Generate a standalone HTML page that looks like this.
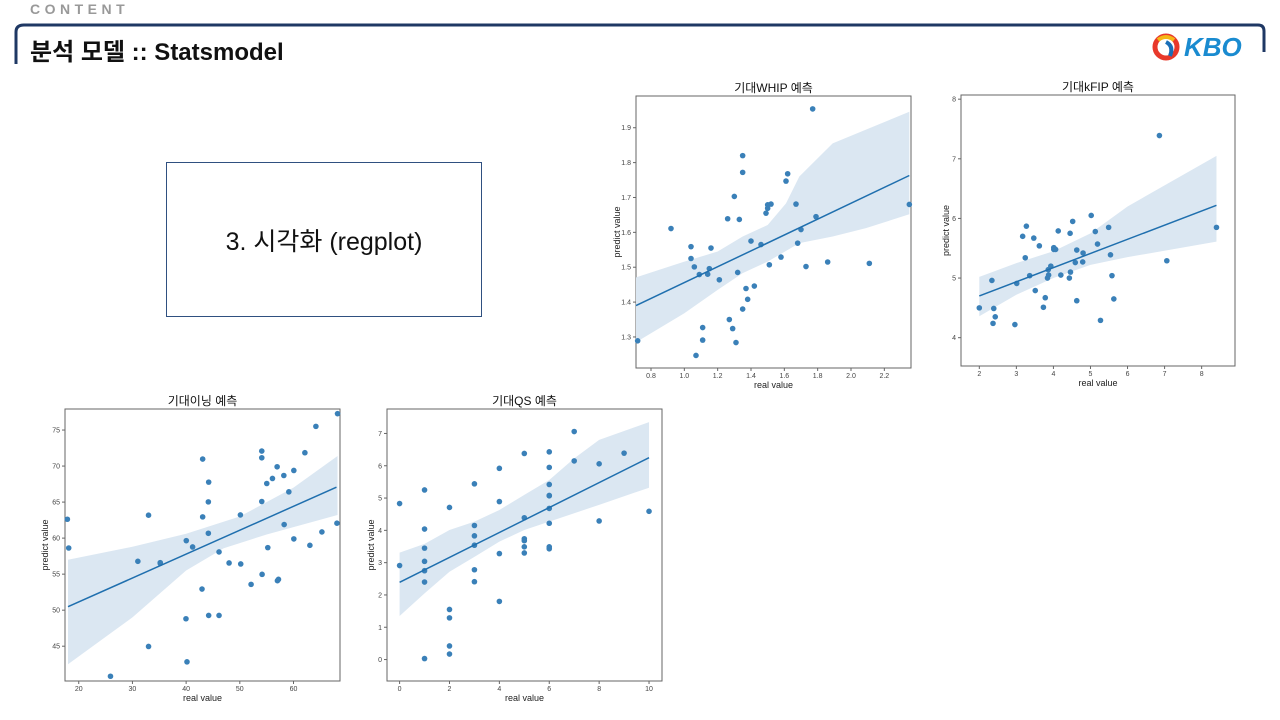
<!DOCTYPE html>
<html><head><meta charset="utf-8">
<style>
body{margin:0;width:1280px;height:720px;background:#fff;position:relative;overflow:hidden;font-family:"Liberation Sans","Noto Sans CJK KR",sans-serif;}
.abs{position:absolute;}
</style></head>
<body>
<div class="abs" style="left:30px;top:1px;font-size:14px;letter-spacing:4.5px;color:#999;font-weight:bold;">CONTENT</div>
<svg class="abs" style="left:0;top:0" width="1280" height="80">
<path d="M16,64 L16,32 Q16,25 24,25 L1258,25 Q1264,25 1264,31 L1264,52" fill="none" stroke="#1f3864" stroke-width="3"/>
</svg>
<div class="abs" style="left:30px;top:32px;font-size:24px;font-weight:bold;color:#111;font-family:'Liberation Sans','Noto Sans CJK KR',sans-serif;">분석 모델 :: Statsmodel</div>
<div class="abs" style="left:1152px;top:32px;width:100px;height:30px;">
<svg width="30" height="30" style="position:absolute;left:0;top:0"><circle cx="14" cy="15" r="11" fill="none" stroke="#e8392b" stroke-width="5"/><path d="M6,8 Q14,2 22,8" stroke="#f5b716" stroke-width="4" fill="none"/><path d="M14,10 Q22,14 18,24" stroke="#1a6fb8" stroke-width="4" fill="none"/></svg>
<span style="position:absolute;left:32px;top:0px;font-size:26px;font-weight:bold;font-style:italic;color:#1a8bd0;">KBO</span>
</div>
<div class="abs" style="left:166px;top:162px;width:314px;height:153px;border:1px solid #2f5080;display:flex;align-items:center;justify-content:center;font-size:25px;color:#111;font-family:'Liberation Sans','Noto Sans CJK KR',sans-serif;">3. 시각화 (regplot)</div>
<svg id="charts" class="abs" style="left:0;top:0" width="1280" height="720"></svg>
<script>
// ---- Chart 1: 기대WHIP
const whipX=[1.77,1.35,1.35,1.62,1.61,1.30,1.67,1.50,1.52,1.50,1.49,1.26,1.33,1.79,0.92,1.70,1.40,1.46,1.68,1.04,1.16,1.04,1.58,1.06,1.15,1.51,1.73,1.86,2.11,1.09,1.14,1.32,1.21,1.37,1.42,1.38,1.35,1.27,1.11,1.29,1.11,1.31,0.72,1.07,2.35];
const whipY=[1.954,1.82,1.772,1.768,1.747,1.703,1.681,1.679,1.681,1.669,1.655,1.639,1.637,1.645,1.611,1.608,1.575,1.565,1.569,1.559,1.555,1.525,1.529,1.501,1.496,1.507,1.502,1.515,1.511,1.479,1.48,1.485,1.464,1.439,1.446,1.408,1.38,1.35,1.327,1.324,1.291,1.284,1.289,1.247,1.68];
const whipLine=[[0.71,1.39],[2.35,1.763]];
const whipHiX=[0.71,1.0,1.2,1.35,1.5,1.61,1.69,1.89,2.35];
const whipHi=[1.471,1.516,1.545,1.588,1.621,1.683,1.760,1.855,1.946];
const whipLoX=[0.71,1.0,1.2,1.35,1.5,1.69,1.89,2.09,2.35];
const whipLo=[1.285,1.368,1.435,1.483,1.516,1.569,1.588,1.612,1.652];
const whipXTicks=[0.8,1.0,1.2,1.4,1.6,1.8,2.0,2.2];
const whipYTicks=[1.3,1.4,1.5,1.6,1.7,1.8,1.9];
const whipXLabels=["0.8","1.0","1.2","1.4","1.6","1.8","2.0","2.2"];
const whipYLabels=["1.3","1.4","1.5","1.6","1.7","1.8","1.9"];
// ---- Chart 2: 기대kFIP
const fipX=[6.86,5.02,4.52,3.27,5.49,8.40,4.13,5.13,4.45,3.17,3.47,5.19,3.62,4.01,4.06,4.01,4.63,4.80,5.54,3.24,4.59,4.79,7.06,3.93,3.86,3.36,3.87,4.20,4.46,5.58,3.84,4.43,2.34,3.01,3.51,3.78,4.63,5.63,3.73,2.0,2.39,2.43,5.27,2.37,2.96];
const fipY=[7.39,6.05,5.95,5.87,5.85,5.85,5.79,5.78,5.75,5.70,5.67,5.57,5.54,5.51,5.48,5.48,5.47,5.42,5.39,5.34,5.26,5.27,5.29,5.20,5.14,5.04,5.05,5.05,5.10,5.04,5.00,5.00,4.96,4.91,4.79,4.67,4.62,4.65,4.51,4.50,4.49,4.35,4.29,4.24,4.22];
const fipLine=[[2.0,4.70],[8.4,6.22]];
const fipHiX=[2,3,4,5,6,8.4];
const fipHi=[5.02,5.25,5.45,5.75,6.2,7.05];
const fipLoX=[2,3,4,5,6,8.4];
const fipLo=[4.36,4.72,5.0,5.22,5.35,5.61];
const fipXTicks=[2,3,4,5,6,7,8];
const fipYTicks=[4,5,6,7,8];
const fipXLabels=["2","3","4","5","6","7","8"];
const fipYLabels=["4","5","6","7","8"];
// ---- Chart 3: 기대이닝
const innX=[68.2,64.17,54.09,54.09,43.08,62.12,56.95,60.06,56.08,58.2,55.02,44.2,59.13,54.09,44.14,33.0,50.11,43.08,17.88,68.09,58.26,44.14,65.29,40.03,60.06,63.05,41.21,55.21,18.13,46.13,31.01,35.18,35.18,48.0,50.17,54.15,57.2,57.01,52.1,42.96,39.97,44.2,46.13,33.0,40.16,25.91];
const innY=[77.27,75.51,72.08,71.15,70.97,71.85,69.9,69.39,68.28,68.69,67.58,67.77,66.42,65.08,65.03,63.18,63.22,62.95,62.62,62.07,61.88,60.67,60.86,59.65,59.89,59.0,58.77,58.68,58.63,58.08,56.78,56.6,56.5,56.55,56.41,54.97,54.28,54.09,53.58,52.93,48.81,49.27,49.27,44.96,42.83,40.83];
const innLine=[[18,50.48],[68,67.07]];
const innHiX=[18,30,40,50,60,68.2];
const innHi=[57.0,58.8,60.6,63.0,67.0,71.4];
const innLoX=[18,30,40,47,55,68.2];
const innLo=[42.5,49.0,55.5,58.6,60.5,63.2];
const innXTicks=[20,30,40,50,60];
const innYTicks=[45,50,55,60,65,70,75];
const innXLabels=["20","30","40","50","60"];
const innYLabels=["45","50","55","60","65","70","75"];
// ---- Chart 4: 기대QS
const qsX=[7,6,5,9,7,8,6,4,3,6,1,6,6,0,4,2,6,10,5,8,6,3,1,3,5,5,3,1,5,6,6,5,4,0,1,1,3,1,3,4,2,2,2,2,1];
const qsY=[7.06,6.43,6.38,6.39,6.15,6.06,5.95,5.92,5.44,5.42,5.25,5.07,5.08,4.83,4.89,4.71,4.68,4.59,4.39,4.29,4.22,4.15,4.04,3.83,3.74,3.68,3.54,3.45,3.49,3.49,3.43,3.30,3.28,2.91,3.04,2.75,2.78,2.40,2.41,1.80,1.55,1.29,0.42,0.17,0.03];
const qsLine=[[0,2.39],[10,6.25]];
const qsHiX=[0,1,2,3,4,5,6,7,8,10];
const qsHi=[3.31,3.58,4.01,4.27,4.63,5.10,5.56,6.23,6.80,7.35];
const qsLoX=[0,1,2,3,4,5,6,7,8,10];
const qsLo=[1.35,2.05,2.72,3.18,3.65,4.01,4.27,4.53,4.79,5.32];
const qsXTicks=[0,2,4,6,8,10];
const qsYTicks=[0,1,2,3,4,5,6,7];
const qsXLabels=["0","2","4","6","8","10"];
const qsYLabels=["0","1","2","3","4","5","6","7"];

const NS="http://www.w3.org/2000/svg";
const root=document.getElementById('charts');
function mk(tag,attrs,parent){const e=document.createElementNS(NS,tag);for(const k in attrs)e.setAttribute(k,attrs[k]);(parent||root).appendChild(e);return e;}
function chart(c){
  const g=mk('g',{});
  
  
  const sx=v=>c.L+(v-c.x0)/(c.x1-c.x0)*(c.R-c.L);
  const sy=v=>c.B-(v-c.y0)/(c.y1-c.y0)*(c.B-c.T);
  const fr=mk('rect',{x:c.L,y:c.T,width:c.R-c.L,height:c.B-c.T,fill:'#fff',stroke:'#666','stroke-width':1},g);
  
  
  let d='';
  c.hiX.forEach((x,i)=>{d+=(i?'L':'M')+sx(x)+','+sy(c.hi[i]);});
  for(let i=c.loX.length-1;i>=0;i--){d+='L'+sx(c.loX[i])+','+sy(c.lo[i]);}
  const band=mk('path',{d:d+'Z',fill:'#dbe7f2',stroke:'none'},g);
  
  
  c.xs.forEach((x,i)=>{
    const p=mk('circle',{cx:sx(x),cy:sy(c.ys[i]),r:2.8,fill:'#3a80b8'},g);
    
    
  });
  const ln=mk('line',{x1:sx(c.line[0][0]),y1:sy(c.line[0][1]),x2:sx(c.line[1][0]),y2:sy(c.line[1][1]),stroke:'#1f6fae','stroke-width':1.5},g);
  
  
  c.xt.forEach((v,i)=>{
    const x=sx(v);
    mk('line',{x1:x,y1:c.B,x2:x,y2:c.B+3,stroke:'#666'},g);
    const t=mk('text',{x:x,y:c.B+10,'font-size':7,'text-anchor':'middle',fill:'#444'},g);
    t.textContent=c.xl[i];
    
    
  });
  c.yt.forEach((v,i)=>{
    const y=sy(v);
    mk('line',{x1:c.L-3,y1:y,x2:c.L,y2:y,stroke:'#666'},g);
    const t=mk('text',{x:c.L-5,y:y+2.5,'font-size':7,'text-anchor':'end',fill:'#444'},g);
    t.textContent=c.yl[i];
    
    
  });
  const tt=mk('text',{x:(c.L+c.R)/2,y:c.T-4,'font-size':12,'text-anchor':'middle',fill:'#111'},g);
  tt.textContent=c.title;
  
  
  const xl=mk('text',{x:(c.L+c.R)/2,y:c.B+20,'font-size':9,'text-anchor':'middle',fill:'#222'},g);
  xl.textContent='real value';
  
  
  const yc=(c.T+c.B)/2;
  const yl=mk('text',{x:c.ylx,y:yc,'font-size':9,'text-anchor':'middle',fill:'#222',transform:`rotate(-90 ${c.ylx} ${yc})`},g);
  yl.textContent='predict value';
  
  
}
chart({name:'whip-chart',title:'기대WHIP 예측',L:636,R:911,T:96,B:368,x0:0.71,x1:2.36,y0:1.211,y1:1.991,xs:whipX,ys:whipY,line:whipLine,hiX:whipHiX,hi:whipHi,loX:whipLoX,lo:whipLo,xt:whipXTicks,yt:whipYTicks,xl:whipXLabels,yl:whipYLabels,ylx:620});
chart({name:'kfip-chart',title:'기대kFIP 예측',L:961,R:1235,T:95,B:366,x0:1.506,x1:8.9,y0:3.525,y1:8.07,xs:fipX,ys:fipY,line:fipLine,hiX:fipHiX,hi:fipHi,loX:fipLoX,lo:fipLo,xt:fipXTicks,yt:fipYTicks,xl:fipXLabels,yl:fipYLabels,ylx:949});
chart({name:'innings-chart',title:'기대이닝 예측',L:65,R:340,T:409,B:681,x0:17.44,x1:68.66,y0:40.17,y1:77.92,xs:innX,ys:innY,line:innLine,hiX:innHiX,hi:innHi,loX:innLoX,lo:innLo,xt:innXTicks,yt:innYTicks,xl:innXLabels,yl:innYLabels,ylx:48});
chart({name:'qs-chart',title:'기대QS 예측',L:387,R:662,T:409,B:681,x0:-0.505,x1:10.52,y0:-0.664,y1:7.757,xs:qsX,ys:qsY,line:qsLine,hiX:qsHiX,hi:qsHi,loX:qsLoX,lo:qsLo,xt:qsXTicks,yt:qsYTicks,xl:qsXLabels,yl:qsYLabels,ylx:374});
</script>
</body></html>
